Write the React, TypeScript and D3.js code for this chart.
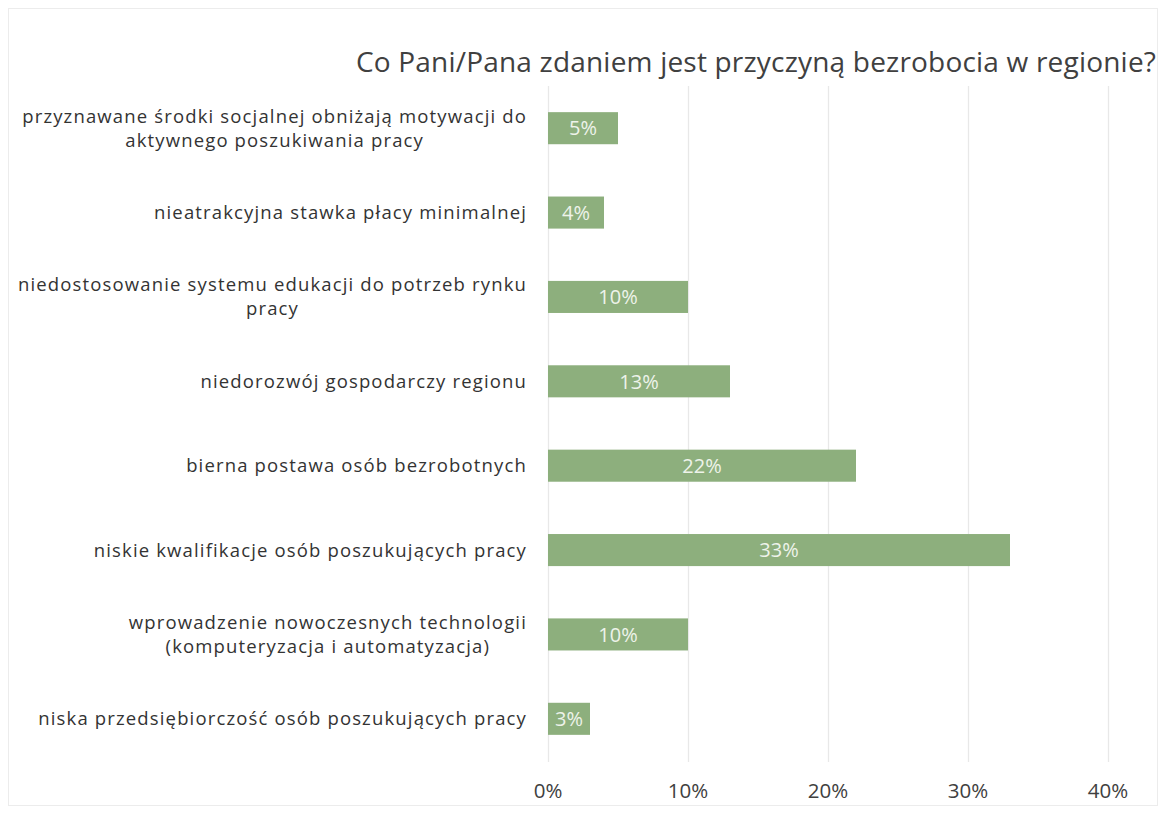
import React, { useEffect, useRef } from "react";
import * as d3 from "d3";

const TITLE = "Co Pani/Pana zdaniem jest przyczyną bezrobocia w regionie?";
const CATEGORIES: string[][] = [
  ["przyznawane środki socjalnej obniżają motywacji do", "aktywnego poszukiwania pracy"],
  ["nieatrakcyjna stawka płacy minimalnej"],
  ["niedostosowanie systemu edukacji do potrzeb rynku", "pracy"],
  ["niedorozwój gospodarczy regionu"],
  ["bierna postawa osób bezrobotnych"],
  ["niskie kwalifikacje osób poszukujących pracy"],
  ["wprowadzenie nowoczesnych technologii", "(komputeryzacja i automatyzacja)"],
  ["niska przedsiębiorczość osób poszukujących pracy"],
];
const VALUES = [5, 4, 10, 13, 22, 33, 10, 3];
const TICKS = [0, 10, 20, 30, 40];

const FONT = "'Open Sans', sans-serif";

export default function App() {
  const ref = useRef<SVGSVGElement>(null);
  useEffect(() => {
    const svg = d3.select(ref.current);
    svg.selectAll("*").remove();
    const W = 1158, H = 814;
    const x = d3.scaleLinear().domain([0, 40]).range([548, 1108]);
    const idx = CATEGORIES.map((_, i) => String(i));
    const y = d3.scaleBand().domain(idx).range([86, 761]).paddingInner(0.62).paddingOuter(0.31);

    svg.append("rect").attr("x", 8.5).attr("y", 8.5).attr("width", W - 9).attr("height", H - 17)
      .attr("fill", "white").attr("stroke", "#ececec");

    svg.append("text").attr("x", 756).attr("y", 72).attr("text-anchor", "middle")
      .attr("font-family", FONT).attr("font-size", 28).attr("letter-spacing", 0.2)
      .attr("fill", "#404040").text(TITLE);

    // gridlines
    svg.append("g").selectAll("line").data(TICKS).join("line")
      .attr("x1", d => x(d) + 0.5).attr("x2", d => x(d) + 0.5)
      .attr("y1", 86).attr("y2", 762).attr("stroke", "#e8e8e8").attr("stroke-width", 1.3);

    // tick labels
    svg.append("g").selectAll("text").data(TICKS).join("text")
      .attr("x", d => x(d)).attr("y", 798).attr("text-anchor", "middle")
      .attr("font-family", FONT).attr("font-size", 20.5).attr("fill", "#404040")
      .text(d => d + "%");

    // bars
    svg.append("g").selectAll("rect").data(VALUES).join("rect")
      .attr("x", x(0)).attr("y", (_, i) => y(String(i))!)
      .attr("width", d => x(d) - x(0)).attr("height", y.bandwidth())
      .attr("fill", "#8daf7d");

    svg.append("g").selectAll("text").data(VALUES).join("text")
      .attr("x", d => (x(d) + x(0)) / 2).attr("y", (_, i) => y(String(i))! + y.bandwidth() / 2 + 7.3)
      .attr("text-anchor", "middle").attr("font-family", FONT).attr("font-size", 20)
      .attr("fill", "#eef3ea").text(d => d + "%");

    // category labels
    const right = 527;
    const lineH = 24;
    CATEGORIES.forEach((lines, i) => {
      const cy = y(String(i))! + y.bandwidth() / 2;
      const g = svg.append("g");
      const texts = lines.map((ln, j) =>
        g.append("text").attr("font-family", FONT).attr("font-size", 18.5)
          .attr("letter-spacing", 1.15).attr("fill", "#333333")
          .attr("y", cy + 6.5 + (j - (lines.length - 1) / 2) * lineH).text(ln)
      );
      const widths = texts.map(t => (t.node() as SVGTextElement).getComputedTextLength());
      const maxW = Math.max(...widths);
      const center = right - maxW / 2;
      texts.forEach(t => t.attr("x", center).attr("text-anchor", "middle"));
    });
  }, []);
  return (
    <svg ref={ref} width={1158} height={814}
      style={{ position: "absolute", left: 0, top: 0, background: "white" }} />
  );
}
